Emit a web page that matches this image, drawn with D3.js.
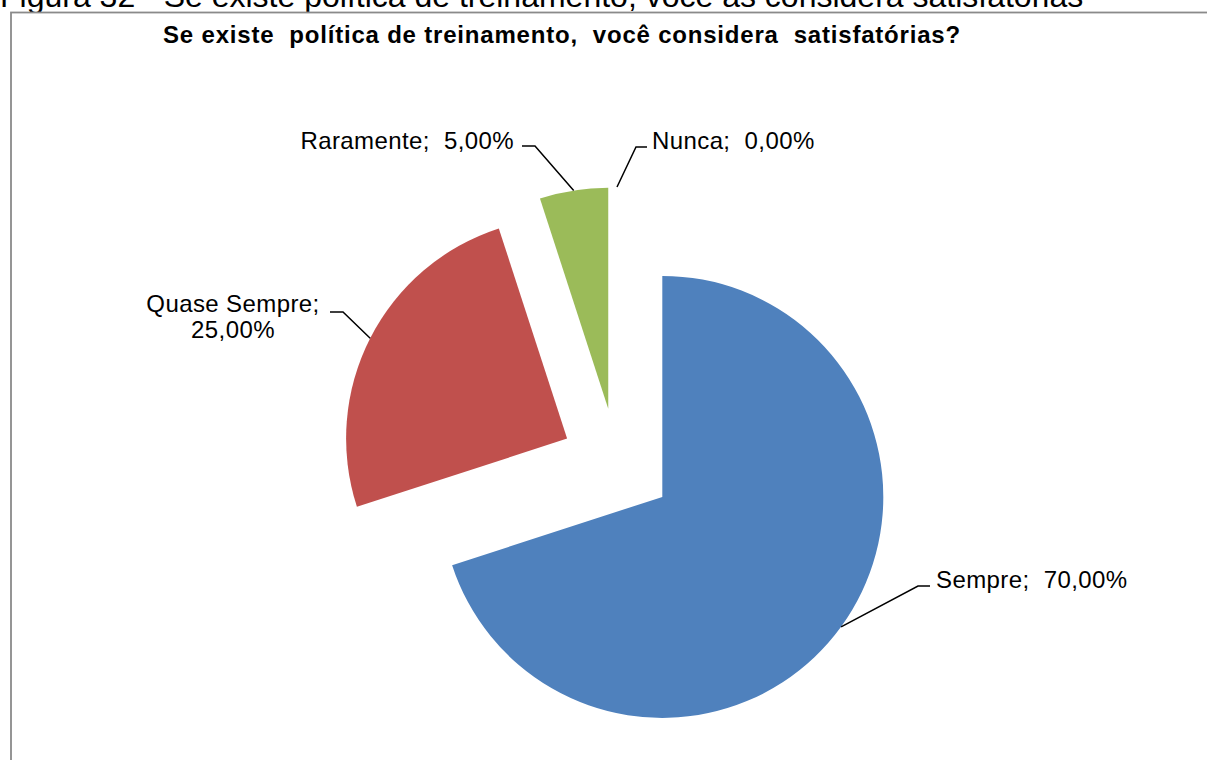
<!DOCTYPE html>
<html>
<head>
<meta charset="utf-8">
<script src="https://cdn.jsdelivr.net/npm/d3@7"></script>
<style>
  html, body { margin: 0; padding: 0; background: #fff; overflow: hidden; }
  svg { display: block; }
  text { font-family: "Liberation Sans", Arial, sans-serif; fill: #000; }
</style>
</head>
<body>
<svg id="chart" width="1207" height="760"></svg>
<script>
// Survey answers (percent of respondents)
const categories = ["Sempre", "Quase Sempre", "Raramente", "Nunca"];
const values = [70, 25, 5, 0];
const colors = ["#4F81BD", "#C0504D", "#9BBB59", "#8064A2"];

const captionText = "Figura 32 - Se existe política de treinamento, você as considera satisfatórias";
const titleText = "Se existe  política de treinamento,  você considera  satisfatórias?";

// Label placement: text anchor point, leader elbow, horizontal end
const labelLayout = {
  "Sempre":       { lines: 1, anchor: "start",  tx: 936, ty: 588, hx: 930, ex: 918, ey: 586 },
  "Quase Sempre": { lines: 2, anchor: "middle", tx: 233, ty: 312, hx: 330, ex: 343, ey: 312 },
  "Raramente":    { lines: 1, anchor: "end",    tx: 514, ty: 149, hx: 522, ex: 535, ey: 146 },
  "Nunca":        { lines: 1, anchor: "start",  tx: 652, ty: 149, hx: 647, ex: 636, ey: 147 }
};

const svg = d3.select("#chart");

// Caption above the chart frame (partly outside the viewport)
svg.append("text")
  .attr("x", 0).attr("y", 7)
  .attr("font-size", 32)
  .text(captionText);

// Chart frame
svg.append("rect")
  .attr("x", 11).attr("y", 12.5)
  .attr("width", 1300).attr("height", 800)
  .attr("fill", "#fff")
  .attr("stroke", "#8a8a8a")
  .attr("stroke-width", 1.8);

// Title
svg.append("text")
  .attr("x", 562).attr("y", 43)
  .attr("text-anchor", "middle")
  .attr("font-size", 24)
  .attr("font-weight", "bold")
  .attr("letter-spacing", 0.8)
  .style("white-space", "pre")
  .text(titleText);

const cx = 617, cy = 464, radius = 221, explode = 56;

const data = categories.map((c, i) => ({ name: c, value: values[i], color: colors[i] }));

const pie = d3.pie().sort(null).value(d => d.value).startAngle(0).endAngle(2 * Math.PI);
const arcs = pie(data);
const arc = d3.arc().innerRadius(0).outerRadius(radius);

const g = svg.append("g").attr("transform", `translate(${cx},${cy})`);

const mid = a => (a.startAngle + a.endAngle) / 2;
const off = (a, r) => [Math.sin(mid(a)) * r, -Math.cos(mid(a)) * r];

g.selectAll("path.slice")
  .data(arcs.filter(a => a.value > 0))
  .join("path")
  .attr("class", "slice")
  .attr("d", arc)
  .attr("fill", d => d.data.color)
  .attr("transform", d => { const [dx, dy] = off(d, explode); return `translate(${dx},${dy})`; });

// Leader lines and data labels
arcs.forEach(a => {
  const L = labelLayout[a.data.name];
  const [ox, oy] = off(a, explode + radius);
  const p0 = [cx + ox, cy + oy];
  svg.append("polyline")
    .attr("points", [p0, [L.ex, L.ey], [L.hx, L.ey]].map(p => p.join(",")).join(" "))
    .attr("fill", "none")
    .attr("stroke", "#000")
    .attr("stroke-width", 1.5);

  const pct = d3.format(".2f")(a.data.value).replace(".", ",") + "%";
  const t = svg.append("text")
    .attr("x", L.tx).attr("y", L.ty)
    .attr("text-anchor", L.anchor)
    .attr("font-size", 24)
    .attr("letter-spacing", 0.4)
    .style("white-space", "pre");
  if (L.lines === 2) {
    t.append("tspan").attr("x", L.tx).text(a.data.name + ";");
    t.append("tspan").attr("x", L.tx).attr("dy", 26).text(pct);
  } else {
    t.text(a.data.name + ";  " + pct);
  }
});
</script>
</body>
</html>
